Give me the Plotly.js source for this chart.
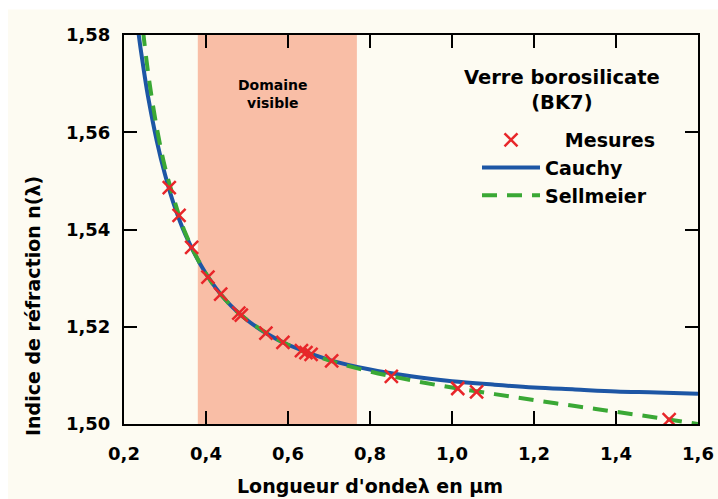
<!DOCTYPE html>
<html>
<head>
<meta charset="utf-8">
<script src="https://cdn.plot.ly/plotly-3.0.1.min.js"></script>
<style>html,body{margin:0;padding:0;background:#fff;}#chart{width:718px;height:499px;}</style>
</head>
<body>
<div id="chart"></div>
<script>
// Measured refractive indices (BK7)
const lambdaMesures = [0.3104, 0.3343, 0.3650, 0.4047, 0.4358, 0.4800, 0.4861, 0.5461, 0.5876, 0.6328, 0.6438, 0.6563, 0.7065, 0.8521, 1.0140, 1.0600, 1.5296];
const nMesures      = [1.5486, 1.5429, 1.5363, 1.5302, 1.5267, 1.5228, 1.5224, 1.5187, 1.5168, 1.5151, 1.5147, 1.5143, 1.5130, 1.5098, 1.5073, 1.5066, 1.5009];

// Cauchy curve
const lambdaCauchy = [0.23, 0.24, 0.25, 0.26, 0.28, 0.30, 0.32, 0.35, 0.40, 0.45, 0.50, 0.55, 0.60, 0.70, 0.80, 0.90, 1.00, 1.10, 1.20, 1.30, 1.40, 1.50, 1.60];
const nCauchy      = [1.5840, 1.5775, 1.5718, 1.5667, 1.5582, 1.5513, 1.5456, 1.5389, 1.5309, 1.5253, 1.5214, 1.5185, 1.5163, 1.5132, 1.5112, 1.5098, 1.5088, 1.5081, 1.5075, 1.5071, 1.5067, 1.5065, 1.5062];

// Sellmeier curve
const lambdaSellmeier = [0.240, 0.245, 0.26, 0.28, 0.30, 0.32, 0.35, 0.40, 0.45, 0.50, 0.60, 0.70, 0.80, 0.90, 1.00, 1.10, 1.20, 1.30, 1.40, 1.50, 1.60];
const nSellmeier      = [1.5859, 1.5819, 1.5715, 1.5609, 1.5528, 1.5468, 1.5392, 1.5309, 1.5253, 1.5214, 1.5163, 1.5131, 1.5108, 1.5090, 1.5075, 1.5062, 1.5049, 1.5037, 1.5025, 1.5013, 1.5000];

// Visible domain (µm)
const visibleRange = [0.38, 0.768];

const xTicks = [0.2, 0.4, 0.6, 0.8, 1.0, 1.2, 1.4, 1.6];
const yTicks = [1.50, 1.52, 1.54, 1.56, 1.58];

const FONT = 'DejaVu Sans, sans-serif';

const traces = [
  {
    x: lambdaCauchy, y: nCauchy, name: 'Cauchy', type: 'scatter', mode: 'lines', legendrank: 2,
    line: {color: '#1d56a5', width: 4, shape: 'spline'}
  },
  {
    x: lambdaSellmeier, y: nSellmeier, name: 'Sellmeier', type: 'scatter', mode: 'lines', legendrank: 3,
    line: {color: '#3aa835', width: 4, dash: '15px,10px', shape: 'spline'}
  },
  {
    x: lambdaMesures, y: nMesures, name: '\u00a0\u00a0\u00a0Mesures', type: 'scatter', mode: 'markers', legendrank: 1,
    marker: {symbol: 'x-thin-open', size: 13, color: '#e8262a', line: {color: '#e8262a', width: 2.5}}
  }
];

const layout = {
  width: 718, height: 499,
  margin: {l: 124, r: 20, t: 35, b: 75},
  paper_bgcolor: '#ffffff',
  plot_bgcolor: 'rgba(0,0,0,0)',
  separators: ',.',
  font: {family: FONT, size: 18, color: '#000', weight: 'bold'},
  showlegend: true,
  legend: {
    x: (477 - 124) / 574, y: (424 - 121) / 389, xanchor: 'left', yanchor: 'top',
    bgcolor: 'rgba(0,0,0,0)',
    font: {family: FONT, size: 19, color: '#000', weight: 'bold'},
    itemwidth: 58,
    traceorder: 'normal'
  },
  xaxis: {
    range: [0.2, 1.6], tickvals: xTicks, tickformat: '.1f',
    ticks: 'inside', ticklen: 13, tickwidth: 2, tickcolor: '#000',
    showline: true, linewidth: 2, linecolor: '#000', mirror: 'ticks',
    showgrid: false, zeroline: false,
    tickfont: {family: FONT, size: 18, color: '#000', weight: 'bold'},
    ticklabelstandoff: 12
  },
  yaxis: {
    range: [1.50, 1.58], tickvals: yTicks, tickformat: '.2f',
    ticks: 'inside', ticklen: 13, tickwidth: 2, tickcolor: '#000',
    showline: true, linewidth: 2, linecolor: '#000', mirror: 'ticks',
    showgrid: false, zeroline: false,
    tickfont: {family: FONT, size: 18, color: '#000', weight: 'bold'},
    ticklabelstandoff: 8
  },
  shapes: [
    {type: 'rect', xref: 'paper', yref: 'paper', x0: -0.2021, x1: 1.05, y0: -0.2, y1: 1.0656,
     fillcolor: '#fdfbf2', line: {width: 0}, layer: 'below'},
    {type: 'rect', xref: 'x', yref: 'paper', x0: visibleRange[0], x1: visibleRange[1], y0: 0, y1: 1,
     fillcolor: '#f9bea6', line: {width: 0}, layer: 'below'}
  ],
  annotations: [
    {text: 'Verre borosilicate<br>(BK7)', xref: 'paper', yref: 'paper', x: (562 - 124) / 574, y: (424 - 89.5) / 389,
     showarrow: false, xanchor: 'center', yanchor: 'middle', align: 'center',
     font: {family: FONT, size: 19.5, color: '#000', weight: 'bold'}},
    {text: 'Domaine<br>visible', xref: 'paper', yref: 'paper', x: (273 - 124) / 574, y: (424 - 94) / 389,
     showarrow: false, xanchor: 'center', yanchor: 'middle',
     font: {family: FONT, size: 14, color: '#000', weight: 'bold'}},
    {text: 'Indice de réfraction n(λ)', xref: 'paper', yref: 'paper', x: (33 - 124) / 574, y: (424 - 306) / 389,
     textangle: -90, showarrow: false, xanchor: 'center', yanchor: 'middle',
     font: {family: FONT, size: 19, color: '#000', weight: 'bold'}},
    {text: "Longueur d'ondeλ en µm", xref: 'paper', yref: 'paper', x: (370 - 124) / 574, y: (424 - 486) / 389,
     showarrow: false, xanchor: 'center', yanchor: 'middle',
     font: {family: FONT, size: 19, color: '#000', weight: 'bold'}}
  ]
};

Plotly.newPlot('chart', traces, layout, {displayModeBar: false, staticPlot: true});
</script>
</body>
</html>
